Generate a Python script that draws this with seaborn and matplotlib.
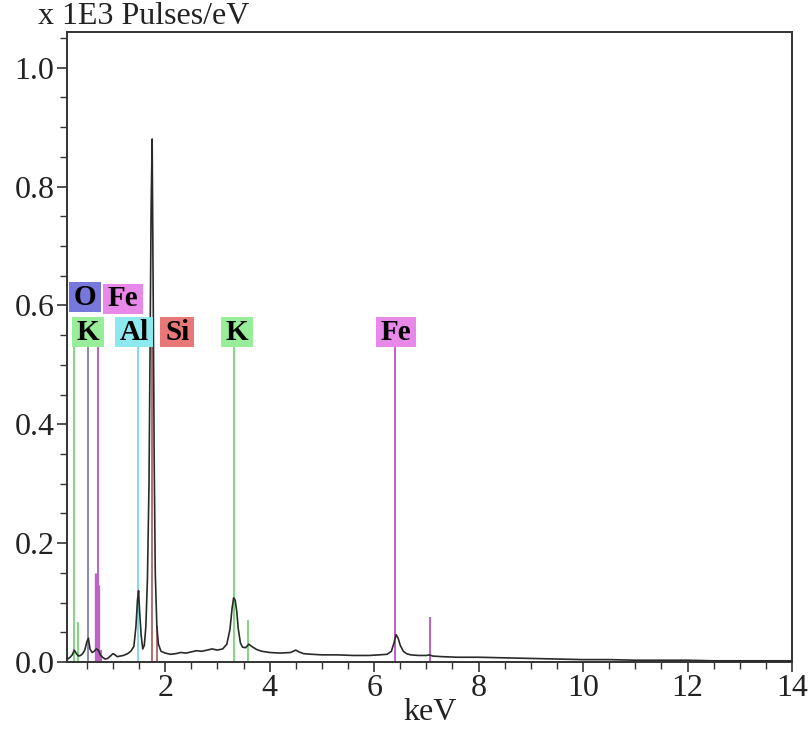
import matplotlib
matplotlib.use("Agg")
import matplotlib.pyplot as plt
import seaborn as sns
import pandas as pd
from matplotlib.ticker import MultipleLocator

# ---- spectrum (keV, x1E3 pulses/eV) ----
energy_kev = [0.12, 0.18, 0.22, 0.26, 0.30, 0.34, 0.38, 0.42, 0.46, 0.50, 0.53, 0.56,
              0.60, 0.64, 0.68, 0.72, 0.76, 0.80, 0.85, 0.90, 0.95, 1.00, 1.04, 1.08,
              1.14, 1.20, 1.28, 1.34, 1.40, 1.44, 1.47, 1.49, 1.51, 1.54, 1.57, 1.60,
              1.63, 1.66, 1.69, 1.71, 1.73, 1.75, 1.77, 1.79, 1.81, 1.84, 1.87, 1.92,
              2.00, 2.10, 2.20, 2.30, 2.40, 2.50, 2.60, 2.70, 2.80, 2.90, 3.00, 3.10,
              3.18, 3.24, 3.28, 3.31, 3.34, 3.37, 3.40, 3.44, 3.48, 3.54, 3.60, 3.66,
              3.75, 3.85, 4.00, 4.20, 4.40, 4.50, 4.56, 4.65, 4.80, 5.00, 5.30, 5.60,
              5.90, 6.10, 6.25, 6.33, 6.38, 6.42, 6.46, 6.50, 6.56, 6.62, 6.70, 6.85,
              7.00, 7.06, 7.12, 7.30, 7.60, 8.00, 8.50, 9.00, 9.50, 10.00, 10.50, 11.00,
              11.50, 12.00, 12.50, 13.00, 13.50, 14.00]
counts = [0.004, 0.008, 0.012, 0.020, 0.014, 0.010, 0.011, 0.014, 0.020, 0.034, 0.040, 0.022,
          0.016, 0.018, 0.022, 0.020, 0.012, 0.008, 0.005, 0.006, 0.010, 0.014, 0.012, 0.009,
          0.010, 0.011, 0.014, 0.018, 0.026, 0.060, 0.105, 0.120, 0.085, 0.045, 0.022, 0.028,
          0.060, 0.140, 0.300, 0.520, 0.760, 0.880, 0.620, 0.330, 0.150, 0.060, 0.030, 0.018,
          0.015, 0.013, 0.014, 0.016, 0.015, 0.017, 0.019, 0.018, 0.020, 0.022, 0.020, 0.022,
          0.030, 0.055, 0.090, 0.108, 0.104, 0.085, 0.055, 0.032, 0.025, 0.024, 0.030, 0.026,
          0.021, 0.018, 0.016, 0.015, 0.016, 0.020, 0.017, 0.014, 0.013, 0.012, 0.012, 0.011,
          0.011, 0.012, 0.013, 0.018, 0.032, 0.046, 0.040, 0.028, 0.018, 0.014, 0.012, 0.011,
          0.011, 0.012, 0.010, 0.009, 0.008, 0.008, 0.007, 0.006, 0.005, 0.004, 0.004, 0.003,
          0.003, 0.003, 0.002, 0.002, 0.002, 0.002]

# ---- element marker lines (keV, height, element) ----
marker_kev = [0.26, 0.34, 0.525, 0.705, 0.68, 0.72, 0.78, 1.486, 1.74, 1.836, 3.31, 3.59, 6.40, 7.06]
marker_height = [0.53, 0.068, 0.53, 0.53, 0.15, 0.13, 0.02, 0.53, 0.53, 0.06, 0.53, 0.07, 0.53, 0.075]
marker_element = ["K", "K", "O", "Fe", "Fe", "Fe", "Fe", "Al", "Si", "Si", "K", "K", "Fe", "Fe"]

# ---- element labels ----
label_text = ["O", "Fe", "K", "Al", "Si", "K", "Fe"]
label_kev = [0.47, 1.19, 0.52, 1.40, 2.23, 3.37, 6.42]
label_level = [0.614, 0.611, 0.555, 0.555, 0.555, 0.555, 0.555]

line_colors = {"K": "#80d880", "O": "#8888b8", "Fe": "#c060c8", "Al": "#80dde0", "Si": "#b07070"}
box_colors = {"K": "#98ee98", "O": "#7878dc", "Fe": "#e888e8", "Al": "#8ee8f0", "Si": "#e87878"}

sns.set_style("ticks")
plt.rcParams["font.family"] = ["Liberation Serif", "DejaVu Serif"]

fig = plt.figure(figsize=(8.10, 7.31), dpi=100)
ax = fig.add_axes([67 / 810, 69 / 731, 725 / 810, 630 / 731])

df = pd.DataFrame({"keV": energy_kev, "counts": counts})

# element lines first (beneath spectrum)
for e, h, el in zip(marker_kev, marker_height, marker_element):
    lw = 2.4 if (el == "Fe" and 0.1 < h < 0.5) else 1.4
    ax.vlines(e, 0, h, color=line_colors[el], lw=lw, zorder=2)

sns.lineplot(data=df, x="keV", y="counts", ax=ax, color="#2a2a2a", lw=1.2, zorder=3)

for t, x, y in zip(label_text, label_kev, label_level):
    ax.text(x, y, t, ha="center", va="center", fontsize=21, fontweight="bold",
            color="black", zorder=4,
            bbox=dict(boxstyle="square,pad=0.16", fc=box_colors[t], ec="none",
                      mutation_aspect=0.3))

ax.set_xlim(0.12, 14.0)
ax.set_ylim(0, 1.06)
ax.xaxis.set_minor_locator(MultipleLocator(0.5))
ax.yaxis.set_minor_locator(MultipleLocator(0.05))
ax.set_xticks([2, 4, 6, 8, 10, 12, 14])
ax.set_xticklabels(["2", "4", "6", "8", "10", "12", "14"])
ax.set_yticks([0.0, 0.2, 0.4, 0.6, 0.8, 1.0])
ax.set_yticklabels(["0.0", "0.2", "0.4", "0.6", "0.8", "1.0"])
ax.tick_params(axis="both", which="major", direction="out", length=7, width=1.2,
               labelsize=23, colors="#333333", labelcolor="#222222", pad=2)
ax.tick_params(axis="both", which="minor", direction="out", length=5, width=1.0, colors="#333333")
for s in ax.spines.values():
    s.set_visible(True)
    s.set_color("#333333")
    s.set_linewidth(1.4)

ax.set_xlabel("")
ax.set_ylabel("")
fig.text(430 / 810, 1 - 713 / 731, "keV", ha="center", va="center", fontsize=23, color="#222222")
fig.text(38 / 810, 1 - 16 / 731, "x 1E3 Pulses/eV", ha="left", va="center", fontsize=23, color="#222222")

fig.savefig("out.png", dpi=100)
